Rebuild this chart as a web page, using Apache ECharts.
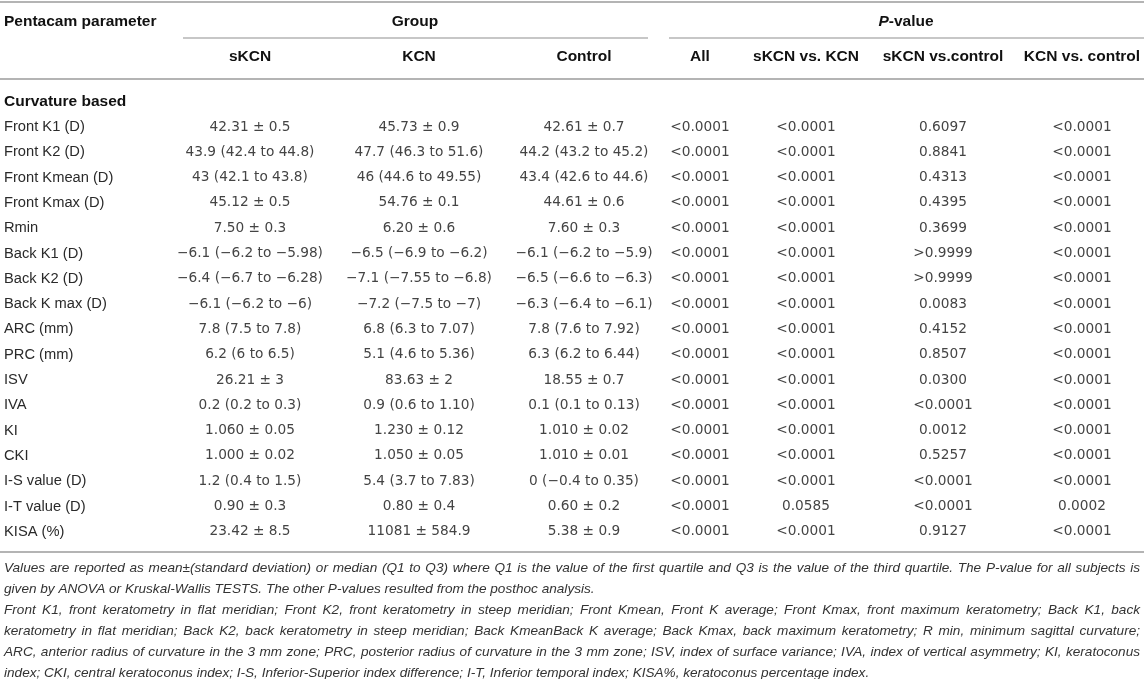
<!DOCTYPE html>
<html>
<head>
<meta charset="utf-8">
<script src="https://cdn.jsdelivr.net/npm/echarts@6/dist/echarts.min.js"></script>
<style>
html, body { margin: 0; padding: 0; background: #fff; }
#box { width: 1144px; height: 679px; }
</style>
</head>
<body>
<div id="box"></div>
<script>
var params = ['Front K1 (D)', 'Front K2 (D)', 'Front Kmean (D)', 'Front Kmax (D)', 'Rmin',
    'Back K1 (D)', 'Back K2 (D)', 'Back K max (D)', 'ARC (mm)', 'PRC (mm)', 'ISV', 'IVA',
    'KI', 'CKI', 'I-S value (D)', 'I-T value (D)', 'KISA (%)'];
var sKCN = ['42.31 ± 0.5', '43.9 (42.4 to 44.8)', '43 (42.1 to 43.8)', '45.12 ± 0.5', '7.50 ± 0.3',
    '−6.1 (−6.2 to −5.98)', '−6.4 (−6.7 to −6.28)', '−6.1 (−6.2 to −6)', '7.8 (7.5 to 7.8)',
    '6.2 (6 to 6.5)', '26.21 ± 3', '0.2 (0.2 to 0.3)', '1.060 ± 0.05', '1.000 ± 0.02',
    '1.2 (0.4 to 1.5)', '0.90 ± 0.3', '23.42 ± 8.5'];
var KCN = ['45.73 ± 0.9', '47.7 (46.3 to 51.6)', '46 (44.6 to 49.55)', '54.76 ± 0.1', '6.20 ± 0.6',
    '−6.5 (−6.9 to −6.2)', '−7.1 (−7.55 to −6.8)', '−7.2 (−7.5 to −7)', '6.8 (6.3 to 7.07)',
    '5.1 (4.6 to 5.36)', '83.63 ± 2', '0.9 (0.6 to 1.10)', '1.230 ± 0.12', '1.050 ± 0.05',
    '5.4 (3.7 to 7.83)', '0.80 ± 0.4', '11081 ± 584.9'];
var control = ['42.61 ± 0.7', '44.2 (43.2 to 45.2)', '43.4 (42.6 to 44.6)', '44.61 ± 0.6', '7.60 ± 0.3',
    '−6.1 (−6.2 to −5.9)', '−6.5 (−6.6 to −6.3)', '−6.3 (−6.4 to −6.1)', '7.8 (7.6 to 7.92)',
    '6.3 (6.2 to 6.44)', '18.55 ± 0.7', '0.1 (0.1 to 0.13)', '1.010 ± 0.02', '1.010 ± 0.01',
    '0 (−0.4 to 0.35)', '0.60 ± 0.2', '5.38 ± 0.9'];
var pAll = ['<0.0001', '<0.0001', '<0.0001', '<0.0001', '<0.0001', '<0.0001', '<0.0001', '<0.0001',
    '<0.0001', '<0.0001', '<0.0001', '<0.0001', '<0.0001', '<0.0001', '<0.0001', '<0.0001', '<0.0001'];
var pSvK = ['<0.0001', '<0.0001', '<0.0001', '<0.0001', '<0.0001', '<0.0001', '<0.0001', '<0.0001',
    '<0.0001', '<0.0001', '<0.0001', '<0.0001', '<0.0001', '<0.0001', '<0.0001', '0.0585', '<0.0001'];
var pSvC = ['0.6097', '0.8841', '0.4313', '0.4395', '0.3699', '>0.9999', '>0.9999', '0.0083',
    '0.4152', '0.8507', '0.0300', '<0.0001', '0.0012', '0.5257', '<0.0001', '<0.0001', '0.9127'];
var pKvC = ['<0.0001', '<0.0001', '<0.0001', '<0.0001', '<0.0001', '<0.0001', '<0.0001', '<0.0001',
    '<0.0001', '<0.0001', '<0.0001', '<0.0001', '<0.0001', '<0.0001', '<0.0001', '0.0002', '<0.0001'];
var subHeaders = ['sKCN', 'KCN', 'Control', 'All', 'sKCN vs. KCN', 'sKCN vs.control', 'KCN vs. control'];
var sectionTitle = 'Curvature based';
// footnote lines; true = justified to full width
var notes = [
    ['Values are reported as mean±(standard deviation) or median (Q1 to Q3) where Q1 is the value of the first quartile and Q3 is the value of the third quartile. The P-value for all subjects is', true],
    ['given by ANOVA or Kruskal-Wallis TESTS. The other P-values resulted from the posthoc analysis.', false],
    ['Front K1, front keratometry in flat meridian; Front K2, front keratometry in steep meridian; Front Kmean, Front K average; Front Kmax, front maximum keratometry; Back K1, back', true],
    ['keratometry in flat meridian; Back K2, back keratometry in steep meridian; Back KmeanBack K average; Back Kmax, back maximum keratometry; R min, minimum sagittal curvature;', true],
    ['ARC, anterior radius of curvature in the 3 mm zone; PRC, posterior radius of curvature in the 3 mm zone; ISV, index of surface variance; IVA, index of vertical asymmetry; KI, keratoconus', true],
    ['index; CKI, central keratoconus index; I-S, Inferior-Superior index difference; I-T, Inferior temporal index; KISA%, keratoconus percentage index.', false]
];

// layout
var W = 1144, H = 679;
var ROW0 = 127, ROWH = 25.3;
var colX = [4, 250, 419, 584, 700, 806, 943, 1082];
var SANS = '"Liberation Sans", Arial, sans-serif';
var NUMF = '"DejaVu Sans", sans-serif';
var LINE = '#b4b4b4';
var NOTE_SIZE = 13.6;

var columns = [params, sKCN, KCN, control, pAll, pSvK, pSvC, pKvC];
var cellData = [], cellText = [];
columns.forEach(function (col, c) {
    col.forEach(function (txt, r) {
        cellData.push([colX[c], r, c]);
        cellText.push(txt);
    });
});
// section row sits one row above the first parameter
cellData.push([colX[0], -1, -1]);
cellText.push(sectionTitle);

var dom = document.getElementById('box');
var myChart = echarts.init(dom);

var graphics = [];
function hline(y, x1, x2, w) {
    graphics.push({ type: 'line', shape: { x1: x1, y1: y, x2: x2, y2: y },
        style: { stroke: LINE, lineWidth: w || 1.5 }, silent: true });
}
hline(2, 0, W, 2);
hline(38, 183, 648);
hline(38, 669, W);
hline(79, 0, W, 2);
hline(552, 0, W, 2);

function htext(txt, x, y, align, rich) {
    graphics.push({ type: 'text', x: x, y: y, silent: true,
        style: { text: txt, fontFamily: SANS, fontSize: 15.5, fontWeight: 'bold', fill: '#111',
            align: align, verticalAlign: 'middle', rich: rich } });
}
htext('Pentacam parameter', 4, 22, 'left');
htext('Group', 415, 22, 'center');
htext('{i|P}-value', 906, 22, 'center', {
    i: { fontFamily: SANS, fontSize: 15.5, fontWeight: 'bold', fontStyle: 'italic', fill: '#111' }
});
subHeaders.forEach(function (h, i) {
    htext(h, colX[i + 1], 57, 'center');
});

// footnotes, justified lines spread word by word
var ctx = document.createElement('canvas').getContext('2d');
ctx.font = 'italic ' + NOTE_SIZE + 'px ' + SANS;
function noteWord(txt, x, y) {
    graphics.push({ type: 'text', x: x, y: y, silent: true,
        style: { text: txt, fontFamily: SANS, fontSize: NOTE_SIZE, fontStyle: 'italic', fill: '#333',
            align: 'left', verticalAlign: 'middle' } });
}
notes.forEach(function (n, i) {
    var y = 568 + i * 21;
    if (!n[1]) { noteWord(n[0], 4, y); return; }
    var words = n[0].split(' ');
    var widths = words.map(function (w) { return ctx.measureText(w).width; });
    var total = widths.reduce(function (a, b) { return a + b; }, 0);
    var gap = (1140 - 4 - total) / (words.length - 1);
    var x = 4;
    words.forEach(function (w, k) {
        noteWord(w, x, y);
        x += widths[k] + gap;
    });
});

option = {
    animation: false,
    grid: { left: 0, right: 0, top: 0, bottom: 0 },
    xAxis: { type: 'value', min: 0, max: W, show: false },
    yAxis: { type: 'value', inverse: true, show: false,
        min: -ROW0 / ROWH, max: (H - ROW0) / ROWH },
    graphic: graphics,
    series: [{
        type: 'custom',
        data: cellData,
        encode: { x: 0, y: 1 },
        renderItem: function (p, api) {
            var pt = api.coord([api.value(0), api.value(1)]);
            var c = api.value(2);
            var style;
            if (c < 0) {
                style = { fontFamily: SANS, fontSize: 15.5, fontWeight: 'bold', fill: '#111', align: 'left' };
            } else if (c === 0) {
                style = { fontFamily: SANS, fontSize: 14.7, fill: '#2a2a2a', align: 'left' };
            } else {
                style = { fontFamily: NUMF, fontSize: 13.7, fill: '#444', align: 'center' };
            }
            style.text = cellText[p.dataIndex];
            style.verticalAlign = 'middle';
            return { type: 'text', x: pt[0], y: pt[1], style: style };
        }
    }]
};
if (option && typeof option === 'object') {
    myChart.setOption(option, true);
}
</script>
</body>
</html>
